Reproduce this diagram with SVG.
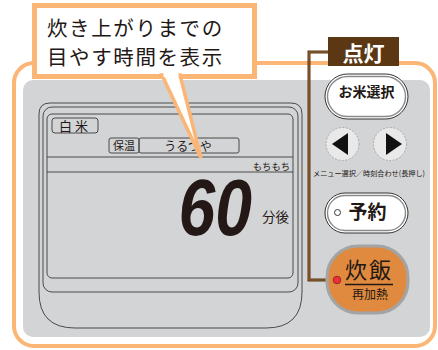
<svg xmlns="http://www.w3.org/2000/svg" width="438" height="350" viewBox="0 0 438 350">
<style>
.jp{font-family:"Noto Sans CJK JP","Noto Sans",sans-serif;fill:#231815}
.ln{fill:none;stroke:#3a3a3a;stroke-width:0.9}
.orange{stroke:#fbb574}
.btn{fill:#fff;stroke:#333;stroke-width:1}
.btnin{fill:none;stroke:#8a8a8a;stroke-width:1.4}
.arrowbtn{fill:#e9e9ea;stroke:#a9a9a9;stroke-width:1;stroke-dasharray:2 1.5}
</style>
<rect width="438" height="350" fill="#fff"/>
<!-- outer orange frame -->
<rect x="14" y="63" width="421" height="283" rx="20" fill="#fff" class="orange" stroke-width="4"/>
<!-- gray panel -->
<rect x="23" y="80" width="407" height="257" rx="10" fill="#d3d4d6"/>

<g id="display">
  <path d="M50,103 H291 Q302,103 302,114 V292 Q302,328 266,328 H75 Q39,328 39,292 V114 Q39,103 50,103 Z" fill="#fff" class="ln"/>
  <rect x="43" y="107" width="255" height="185" rx="9" class="ln"/>
  <rect x="47" y="114" width="246" height="164" rx="5" class="ln" stroke-width="1.1"/>
  <rect x="52" y="118" width="46" height="15" rx="3" class="ln"/>
  <text x="75" y="131" class="jp" font-size="13" text-anchor="middle" letter-spacing="3">白米</text>
  <rect x="109" y="138" width="30" height="15" rx="2" class="ln" stroke-width="1.2"/>
  <text x="124" y="150" class="jp" font-size="11" text-anchor="middle">保温</text>
  <rect x="139" y="138" width="100" height="15" rx="2" class="ln"/>
  <text x="188" y="150.5" class="jp" font-size="12" text-anchor="middle">うるつや</text>
  <line x1="47" y1="157" x2="293" y2="157" class="ln"/>
  <line x1="47" y1="172" x2="293" y2="172" class="ln"/>
  <text x="290" y="169.5" class="jp" font-size="9.3" text-anchor="end">もちもち</text>
  <text transform="translate(178.5,235) scale(1,1.21)" x="0" y="0" font-family="Liberation Sans, Arial, sans-serif" font-weight="bold" font-style="italic" font-size="66" fill="#231815">60</text>
  <text x="262" y="222" class="jp" font-size="13.5">分後</text>
</g>

<g id="callout">
  <rect x="34.5" y="5.5" width="220" height="71" fill="#fff" class="orange" stroke-width="5"/>
  <polygon points="162,75 201,158 180,75" fill="#fff" class="orange" stroke-width="3.5" stroke-linejoin="miter"/>
  <rect x="163.5" y="71" width="15" height="6" fill="#fff"/>
  <text class="jp" font-size="20.5" letter-spacing="1.6"><tspan x="47" y="35.5">炊き上がりまでの</tspan><tspan x="47" y="65.3">目やす時間を表示</tspan></text>
</g>

<g id="connectors">
  <path d="M328,52 H309 V280 H334" fill="none" stroke="#5a3512" stroke-width="3"/>
  <path d="M328,52 H309 V280 H334" fill="none" stroke="#9a6a3a" stroke-width="1"/>
</g>

<g id="label-tento">
  <rect x="328" y="37" width="71" height="29" fill="#5b3714"/>
  <text x="363.5" y="61" class="jp" font-size="21" font-weight="bold" text-anchor="middle" style="fill:#fff">点灯</text>
</g>

<g id="btn-okome">
  <rect x="325" y="74" width="83" height="45" rx="22.5" class="btn"/>
  <rect x="327.5" y="76.5" width="78" height="40" rx="20" class="btnin"/>
  <text x="366.5" y="97" class="jp" font-size="14" font-weight="bold" text-anchor="middle">お米選択</text>
</g>

<g id="btn-left">
  <circle cx="342.5" cy="144" r="16.5" class="arrowbtn"/>
  <polygon points="332,144 348,133 348,155" fill="#111"/>
</g>
<g id="btn-right">
  <circle cx="390" cy="144" r="16.5" class="arrowbtn"/>
  <polygon points="402,144 386,133 386,155" fill="#111"/>
</g>
<text x="313" y="175.5" class="jp" font-size="7.4" textLength="112" lengthAdjust="spacingAndGlyphs">メニュー選択／時刻合わせ(長押し)</text>

<g id="btn-yoyaku">
  <rect x="325" y="193" width="83" height="40" rx="20" class="btn"/>
  <rect x="327.5" y="195.5" width="78" height="35" rx="17.5" class="btnin"/>
  <circle cx="337.5" cy="212.5" r="3" fill="none" stroke="#333" stroke-width="1"/>
  <text x="367.5" y="219" class="jp" font-size="19" font-weight="bold" text-anchor="middle">予約</text>
</g>

<g id="btn-suihan">
  <rect x="327" y="246" width="81" height="67" rx="31" fill="#df8a3e" stroke="#a3a4a6" stroke-width="3"/>
  <text x="369" y="278" class="jp" font-size="22" text-anchor="middle" letter-spacing="2">炊飯</text>
  <line x1="345" y1="284.5" x2="393" y2="284.5" stroke="#231815" stroke-width="1.4"/>
  <text x="370" y="299" class="jp" font-size="12" text-anchor="middle">再加熱</text>
  <circle cx="337" cy="280" r="3.8" fill="#e8303a" stroke="#8a1b20" stroke-width="0.8"/>
</g>
</svg>
